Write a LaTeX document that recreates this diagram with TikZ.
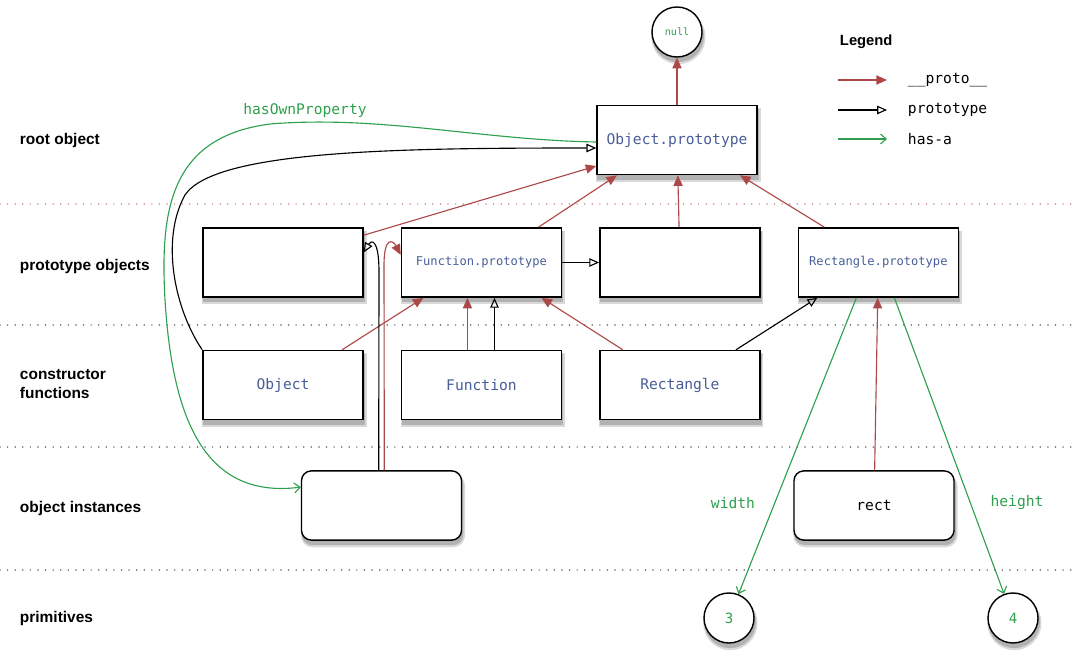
\documentclass[tikz,border=0pt]{standalone}
\usepackage{fontspec}
\setmainfont{Liberation Sans}
\setmonofont{DejaVu Sans Mono}
\usetikzlibrary{arrows.meta,positioning}

\definecolor{protored}{RGB}{172,72,72}
\definecolor{hasgreen}{RGB}{46,160,78}
\definecolor{codeblue}{RGB}{72,94,152}
\definecolor{layerpink}{RGB}{205,140,140}

\begin{document}
\begin{tikzpicture}[x=0.025cm,y=-0.025cm,
    shade below/.style={
        preaction={draw=black!15,line width=3pt,fill=black!15,
            transform canvas={xshift=1pt,yshift=-3.6pt}},
        preaction={draw=black!30,line width=1.2pt,fill=black!30,
            transform canvas={xshift=0.8pt,yshift=-3pt}}},
    box/.style={draw,line width=1pt,fill=white,minimum width=4cm,minimum height=1.73cm,shade below},
    inst/.style={box,rounded corners=7pt},
    prim/.style={circle,draw,line width=1pt,fill=white,minimum size=1.25cm,inner sep=0pt,shade below},
    code/.style={font=\ttfamily\fontsize{10.4}{12}\selectfont,text=codeblue},
    smallcode/.style={font=\ttfamily\fontsize{8.6}{10}\selectfont,text=codeblue},
    rowlabel/.style={anchor=west,align=left,font=\bfseries\fontsize{11}{13}\selectfont},
    layer/.style={gray!80!black,line width=1.2pt,line cap=round,dash pattern=on 0pt off 5.4pt},
    proto/.style={protored,line width=0.8pt,-{Triangle[length=7.5pt,width=6.5pt]}},
    ptype/.style={black,line width=0.8pt,-{Triangle[open,length=7pt,width=6pt]}},
    hasa/.style={hasgreen,line width=0.8pt,-{Straight Barb[length=4pt,width=7pt]}},
    keytext/.style={anchor=west,font=\ttfamily\fontsize{10.4}{12}\selectfont},
]
\useasboundingbox (0,0) rectangle (1078,651);

% layers
\draw[layer,layerpink] (0,204) -- (1078,204);
\draw[layer] (0,325) -- (1078,325);
\draw[layer] (0,447) -- (1078,447);
\draw[layer] (0,570) -- (1078,570);

\node[rowlabel] (lroot) at (15,140) {root object};
\node[rowlabel] (lproto) at (15,266) {prototype objects};
\node[rowlabel] (lctor) at (15,384) {constructor\\functions};
\node[rowlabel] (linst) at (15,508) {object instances};
\node[rowlabel] (lprim) at (15,618) {primitives};

% objects
\node[box,code] (objproto) at (677,140) {Object.prototype};
\node[prim,font=\ttfamily\fontsize{7.2}{8}\selectfont,text=hasgreen] (null) at (677,32) {null};

\node[box] (fnbox) at (283,262.5) {};
\node[box,smallcode,right=0.925cm of fnbox] (funproto) {Function.prototype};
\node[box,right=0.925cm of funproto] (objbox) {};
\node[box,smallcode,right=0.925cm of objbox] (recproto) {Rectangle.prototype};

\node[box,code,below=1.3cm of fnbox] (objctor) {Object};
\node[box,code,right=0.925cm of objctor] (functor) {Function};
\node[box,code,right=0.925cm of functor] (recctor) {Rectangle};

\node[inst] (fninst) at (381.5,505.5) {};
\node[inst,font=\ttfamily\fontsize{10.4}{12}\selectfont] (rect) at (874,505.5) {rect};

\node[prim,font=\ttfamily\fontsize{10}{12}\selectfont,text=hasgreen] (three) at (729,618) {3};
\node[prim,font=\ttfamily\fontsize{10}{12}\selectfont,text=hasgreen] (four) at (1013,618) {4};

% __proto__ links
\draw[proto] (objproto) -- (null);
\draw[proto] ([xshift=1.425cm]funproto.north) -- ([xshift=-1.5cm]objproto.south);
\draw[proto] (objbox) -- (objproto);
\draw[proto] ([xshift=-1.35cm]recproto.north) -- ([xshift=1.575cm]objproto.south);
\draw[proto] ([yshift=-0.2cm]fnbox.north east) -- ([yshift=-0.65cm]objproto.west);
\draw[proto] ([xshift=1.475cm]objctor.north) -- ([xshift=-1.45cm]funproto.south);
\draw[proto] ([xshift=-0.35cm]functor.north) -- ([xshift=-0.35cm]funproto.south);
\draw[proto] ([xshift=-1.425cm]recctor.north) -- ([xshift=1.5cm]funproto.south);
\draw[proto] (rect) -- (recproto);
\draw[proto] ([xshift=0.07cm]fninst.north) -- (384,265)
    .. controls (384,236) and (393,240) .. ([yshift=0.19cm]funproto.west);

% prototype links
\draw[ptype] (funproto) -- (objbox);
\draw[ptype] ([xshift=0.325cm]functor.north) -- ([xshift=0.325cm]funproto.south);
\draw[ptype] ([xshift=1.4cm]recctor.north) -- ([xshift=-1.525cm]recproto.south);
\draw[ptype] (objctor.north west) .. controls (175,310) and (160,240) .. (185,195)
    .. controls (215,150) and (400,148) .. ([yshift=-0.2cm]objproto.west);
\draw[ptype] ([xshift=-0.07cm]fninst.north) -- (379,272)
    .. controls (379,238) and (371,240) .. ([yshift=0.25cm]fnbox.east);

% has-a links
\draw[hasa] ([yshift=-0.05cm]objproto.west) .. controls (480,140) and (380,115) .. (270,124)
    .. controls (170,137) and (160,210) .. (165,300)
    .. controls (172,410) and (200,500) .. ([yshift=0.46cm]fninst.west);
\node[code,text=hasgreen] (lown) at (305,110) {hasOwnProperty};
\draw[hasa] ([xshift=-0.55cm]recproto.south) -- (three);
\draw[hasa] ([xshift=0.4cm]recproto.south) -- (four);
\node[code,text=hasgreen] (lwidth) at (733,503) {width};
\node[code,text=hasgreen] (lheight) at (1017,503) {height};

% legend
\node[anchor=west,font=\bfseries\fontsize{10.5}{12}\selectfont] (legend) at (835,42) {Legend};
\coordinate (k1) at (838,80);
\coordinate (k1e) at (887,80);
\coordinate (k2) at (838,110);
\coordinate (k2e) at (887,110);
\coordinate (k3) at (838,139);
\coordinate (k3e) at (887,139);
\draw[proto] (k1) -- (k1e);
\draw[ptype] (k2) -- (k2e);
\draw[hasa] (k3) -- (k3e);
\node[keytext,right=0.4cm of k1e] (t1) {\_\_proto\_\_};
\node[keytext,right=0.4cm of k2e] (t2) {prototype};
\node[keytext,right=0.4cm of k3e] (t3) {has-a};
\end{tikzpicture}
\end{document}
